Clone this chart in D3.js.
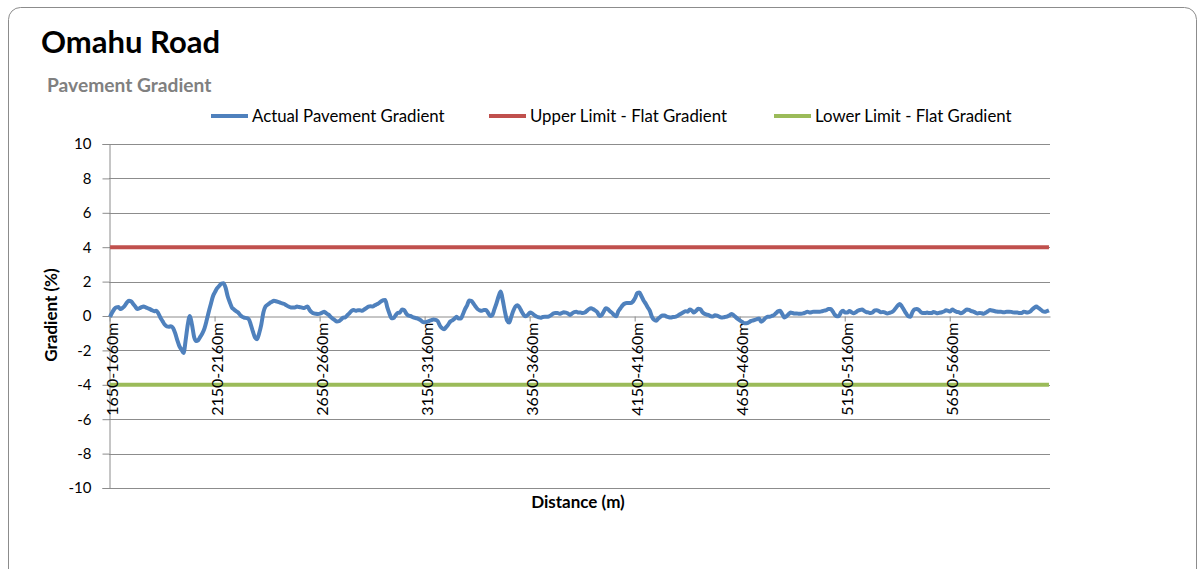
<!DOCTYPE html>
<html>
<head>
<meta charset="utf-8">
<script src="https://cdn.jsdelivr.net/npm/d3@7"></script>
<style>
  html, body { margin: 0; padding: 0; background: #fff; }
  svg { display: block; font-family: Lato, "Open Sans", sans-serif; }
</style>
</head>
<body>
<div id="wrapper"></div>
<script>
// distance bins of 10 m, starting at 1650 m
const startDistance = 1650;
const binSize = 10;

// gradient (%) for each 10 m bin
const gradient = [
  -0.05, 0.2, 0.4, 0.5, 0.52, 0.4, 0.48, 0.6, 0.78, 0.88,
  0.85, 0.7, 0.55, 0.4, 0.45, 0.52, 0.55, 0.5, 0.45, 0.4,
  0.33, 0.28, 0.3, 0.15, -0.1, -0.3, -0.5, -0.6, -0.62, -0.6,
  -0.7, -1.0, -1.4, -1.75, -1.95, -2.15, -1.4, -0.5, 0.0, -0.5,
  -1.2, -1.45, -1.4, -1.2, -1.0, -0.7, -0.25, 0.25, 0.7, 1.15,
  1.4, 1.62, 1.75, 1.88, 1.9, 1.65, 1.15, 0.8, 0.5, 0.38,
  0.28, 0.2, 0.05, -0.05, -0.1, -0.12, -0.18, -0.5, -0.9, -1.25,
  -1.35, -1.0, -0.5, 0.2, 0.55, 0.65, 0.75, 0.82, 0.88, 0.86,
  0.82, 0.78, 0.73, 0.7, 0.62, 0.55, 0.5, 0.5, 0.5, 0.55,
  0.52, 0.5, 0.47, 0.5, 0.55, 0.35, 0.22, 0.15, 0.13, 0.12,
  0.14, 0.2, 0.25, 0.15, 0.08, -0.05, -0.15, -0.24, -0.32, -0.3,
  -0.2, -0.1, -0.08, 0.05, 0.17, 0.3, 0.35, 0.3, 0.34, 0.34,
  0.3, 0.38, 0.46, 0.55, 0.57, 0.55, 0.62, 0.68, 0.75, 0.85,
  0.92, 0.93, 0.5, 0.15, -0.13, -0.12, 0.05, 0.18, 0.2, 0.38,
  0.35, 0.15, 0.03, 0.0, -0.06, -0.1, -0.13, -0.18, -0.25, -0.35,
  -0.36, -0.33, -0.28, -0.24, -0.2, -0.22, -0.3, -0.55, -0.7, -0.77,
  -0.65, -0.5, -0.32, -0.25, -0.15, -0.05, -0.15, -0.15, 0.1, 0.4,
  0.62, 0.9, 0.88, 0.73, 0.55, 0.4, 0.33, 0.3, 0.35, 0.35,
  0.18, 0.0, 0.05, 0.4, 0.75, 1.15, 1.42, 0.9, 0.25, -0.25,
  -0.38, -0.05, 0.3, 0.55, 0.62, 0.48, 0.25, 0.05, -0.02, 0.08,
  0.2, 0.15, 0.05, -0.03, -0.07, -0.1, -0.06, -0.05, -0.05, -0.02,
  0.05, 0.14, 0.18, 0.18, 0.13, 0.17, 0.22, 0.2, 0.15, 0.06,
  0.15, 0.22, 0.24, 0.2, 0.2, 0.17, 0.2, 0.3, 0.4, 0.45,
  0.4, 0.32, 0.22, 0.0, 0.05, 0.25, 0.45, 0.4, 0.28, 0.18,
  0.05, -0.02, 0.28, 0.45, 0.62, 0.72, 0.75, 0.75, 0.75, 0.85,
  1.05, 1.33, 1.36, 1.15, 0.9, 0.72, 0.5, 0.3, -0.05, -0.22,
  -0.27, -0.15, -0.05, 0.03, 0.03, -0.04, -0.07, -0.08, -0.06, -0.05,
  0.0, 0.08, 0.14, 0.22, 0.28, 0.25, 0.38, 0.32, 0.2, 0.3,
  0.42, 0.4, 0.22, 0.13, 0.08, 0.05, -0.02, -0.03, 0.04, 0.02,
  -0.04, -0.09, -0.08, -0.05, -0.02, 0.05, 0.12, 0.03, -0.08, -0.18,
  -0.27, -0.35, -0.42, -0.42, -0.38, -0.3, -0.26, -0.23, -0.18, -0.15,
  -0.33, -0.25, -0.12, -0.05, -0.05, 0.0, 0.05, 0.16, 0.27, 0.3,
  0.12, -0.08, -0.02, 0.1, 0.2, 0.17, 0.15, 0.15, 0.13, 0.13,
  0.15, 0.2, 0.25, 0.21, 0.22, 0.25, 0.25, 0.25, 0.25, 0.28,
  0.31, 0.34, 0.4, 0.4, 0.28, 0.08, -0.02, 0.0, 0.22, 0.3,
  0.2, 0.2, 0.29, 0.22, 0.16, 0.22, 0.3, 0.35, 0.38, 0.3,
  0.23, 0.21, 0.17, 0.2, 0.32, 0.33, 0.29, 0.22, 0.23, 0.2,
  0.15, 0.18, 0.22, 0.3, 0.45, 0.6, 0.7, 0.55, 0.35, 0.15,
  -0.01, -0.04, 0.22, 0.38, 0.4, 0.35, 0.23, 0.17, 0.17, 0.2,
  0.17, 0.17, 0.23, 0.2, 0.16, 0.19, 0.22, 0.26, 0.33, 0.3,
  0.26, 0.38, 0.3, 0.24, 0.22, 0.16, 0.2, 0.3, 0.38, 0.35,
  0.29, 0.26, 0.2, 0.15, 0.18, 0.16, 0.13, 0.2, 0.28, 0.35,
  0.32, 0.29, 0.26, 0.25, 0.25, 0.22, 0.22, 0.25, 0.25, 0.24,
  0.21, 0.2, 0.2, 0.17, 0.17, 0.25, 0.22, 0.21, 0.25, 0.38,
  0.48, 0.55, 0.47, 0.38, 0.28, 0.25, 0.28, 0.33
];

const upperLimit = 4;
const lowerLimit = -4;
const yTicks = [-10, -8, -6, -4, -2, 0, 2, 4, 6, 8, 10];
const labelEvery = 50;

const series = [
  {name: `Actual Pavement Gradient`, color: `#4f81bd`},
  {name: `Upper Limit - Flat Gradient`, color: `#c0504d`},
  {name: `Lower Limit - Flat Gradient`, color: `#9bbb59`},
];

const categories = gradient.map((d, i) => {
  const from = startDistance + i * binSize;
  return `${from}-${from + binSize}m`;
});

const W = 1203, H = 569;
const plot = {left: 109, right: 1050, top: 144, bottom: 488};

const svg = d3.select(`#wrapper`)
  .append(`svg`)
  .attr(`width`, W)
  .attr(`height`, H);

// chart frame
svg.append(`rect`)
  .attr(`x`, 8.5).attr(`y`, 7.5)
  .attr(`width`, 1188).attr(`height`, 600)
  .attr(`rx`, 12)
  .attr(`fill`, `#fff`)
  .attr(`stroke`, `#8c8c8c`);

svg.append(`text`)
  .attr(`x`, 41).attr(`y`, 53)
  .attr(`font-size`, 31).attr(`font-weight`, 700)
  .attr(`fill`, `#000`)
  .text(`Omahu Road`);

svg.append(`text`)
  .attr(`x`, 47).attr(`y`, 92)
  .attr(`font-size`, 19.2).attr(`font-weight`, 700)
  .attr(`fill`, `#808080`)
  .text(`Pavement Gradient`);

const xScale = d3.scaleBand()
  .domain(categories)
  .range([plot.left, plot.right])
  .padding(0);

const xc = d => xScale(d) + xScale.bandwidth() / 2;

const yScale = d3.scaleLinear()
  .domain([-10, 10])
  .range([plot.bottom, plot.top]);

// gridlines
svg.append(`g`)
  .selectAll(`line`)
  .data(yTicks.filter(v => v !== 0))
  .join(`line`)
  .attr(`x1`, plot.left).attr(`x2`, plot.right)
  .attr(`y1`, d => Math.round(yScale(d)) + 0.5)
  .attr(`y2`, d => Math.round(yScale(d)) + 0.5)
  .attr(`stroke`, `#8c8c8c`);

// y axis
const yAxis = svg.append(`g`)
  .attr(`transform`, `translate(${plot.left + 0.5}, 0)`)
  .call(d3.axisLeft(yScale).tickValues(yTicks).tickFormat(d => String(d))
    .tickSize(7).tickPadding(11));
yAxis.select(`.domain`).attr(`stroke`, `#8c8c8c`);
yAxis.selectAll(`.tick line`).attr(`stroke`, `#8c8c8c`);
yAxis.selectAll(`.tick text`)
  .attr(`font-size`, 15).attr(`fill`, `#000`)
  .style(`font-family`, `Lato, sans-serif`);

// limit lines
const limits = [
  {value: upperLimit, color: series[1].color},
  {value: lowerLimit, color: series[2].color},
];
const line = d3.line()
  .x(d => xc(d.c))
  .y(d => yScale(d.v));

limits.forEach(l => {
  svg.append(`path`)
    .datum(categories.map(c => ({c, v: l.value})))
    .attr(`d`, line)
    .attr(`fill`, `none`)
    .attr(`stroke`, l.color)
    .attr(`stroke-width`, 4);
});

// x axis crossing at zero, drawn over the limit lines
const xAxis = svg.append(`g`)
  .attr(`transform`, `translate(0, ${Math.round(yScale(0)) + 0.5})`)
  .call(d3.axisBottom(xScale)
    .tickValues(categories.filter((d, i) => i % labelEvery === 0))
    .tickSize(5)
    .tickSizeOuter(0));
xAxis.select(`.domain`).attr(`stroke`, `#8c8c8c`);
xAxis.selectAll(`.tick line`).attr(`stroke`, `#8c8c8c`);
xAxis.selectAll(`.tick text`)
  .attr(`font-size`, 16).attr(`fill`, `#000`)
  .style(`font-family`, `Lato, sans-serif`)
  .attr(`transform`, `rotate(-90)`)
  .attr(`x`, -6).attr(`y`, 2).attr(`dy`, `0.35em`)
  .style(`text-anchor`, `end`);

svg.append(`path`)
  .datum(categories.map((c, i) => ({c, v: gradient[i]})))
  .attr(`d`, line.curve(d3.curveMonotoneX))
  .attr(`fill`, `none`)
  .attr(`stroke`, series[0].color)
  .attr(`stroke-width`, 4)
  .attr(`stroke-linejoin`, `round`);

// legend
const legendX = [211, 489, 774];
const legend = svg.append(`g`);
series.forEach((s, i) => {
  legend.append(`line`)
    .attr(`x1`, legendX[i]).attr(`x2`, legendX[i] + 37)
    .attr(`y1`, 116).attr(`y2`, 116)
    .attr(`stroke`, s.color).attr(`stroke-width`, 4);
  legend.append(`text`)
    .attr(`x`, legendX[i] + 41).attr(`y`, 121.5)
    .attr(`font-size`, 16.8).attr(`fill`, `#000`)
    .text(s.name);
});

// axis titles
svg.append(`text`)
  .attr(`x`, 578).attr(`y`, 508)
  .attr(`text-anchor`, `middle`)
  .attr(`font-size`, 17).attr(`font-weight`, 700)
  .text(`Distance (m)`);

svg.append(`text`)
  .attr(`transform`, `translate(57, 315) rotate(-90)`)
  .attr(`text-anchor`, `middle`)
  .attr(`font-size`, 17).attr(`font-weight`, 700)
  .text(`Gradient (%)`);
</script>
</body>
</html>
